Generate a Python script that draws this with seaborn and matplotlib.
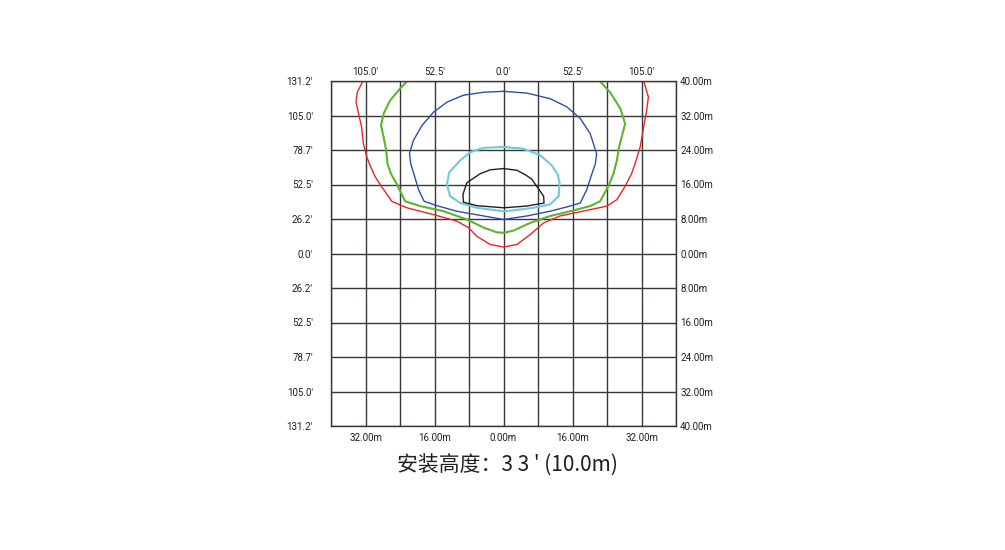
import numpy as np
import pandas as pd
import matplotlib
matplotlib.use("Agg")
import matplotlib.pyplot as plt
import seaborn as sns

# isolux curves, metres (x: lateral, y: forward)
red_x = [-32.6, -33.9, -34.2, -33.6, -32.9, -32.5, -31.7, -30.8, -29.8, -28.6, -25.9, -22.4, -16.2, -10.8,
         -8.1, -6.2, -3.1, 0.0, 3.1, 6.2, 9.3, 13.1, 19.3, 24.0, 26.3, 28.2, 29.7, 30.5, 31.7, 32.5,
         33.2, 33.6, 32.5]
red_y = [40.0, 37.4, 35.1, 32.4, 29.3, 25.5, 22.4, 20.1, 17.9, 16.0, 12.1, 10.6, 9.0, 7.5,
         6.0, 4.0, 2.1, 1.5, 2.1, 4.4, 7.1, 8.7, 10.0, 11.0, 12.5, 15.6, 18.5, 20.8, 24.7, 29.3,
         33.2, 36.3, 40.0]

green_x = [-22.3, -24.0, -26.3, -27.8, -28.4, -27.8, -27.2, -26.9, -26.1, -24.7, -22.8, -19.3, -13.9,
           -8.5, -4.6, -1.5, 0.0, 2.3, 6.2, 10.8, 15.5, 20.1, 22.4, 24.3, 25.5, 26.3, 26.7, 27.4,
           28.2, 27.1, 24.7, 22.3]
green_y = [40.0, 38.2, 35.5, 32.4, 29.7, 27.0, 23.9, 20.8, 18.5, 16.0, 12.1, 11.0, 9.8,
           7.9, 6.0, 4.9, 4.8, 5.3, 7.1, 8.7, 9.8, 11.0, 12.1, 15.6, 18.5, 21.6, 24.3, 27.0,
           30.1, 33.6, 37.4, 40.0]

blue_x = [0.0, 5.4, 10.8, 14.7, 17.8, 20.1, 21.6, 21.3, 20.5, 19.3, 17.8, 14.7, 10.8, 5.4, 0.0,
          -4.6, -10.8, -15.5, -18.4, -19.7, -20.8, -21.5, -21.8, -20.9, -18.9, -16.2, -13.1, -9.3,
          -4.6, 0.0]
blue_y = [37.6, 37.2, 35.9, 34.0, 31.3, 27.8, 23.1, 20.8, 18.5, 14.8, 11.7, 10.8, 9.8, 8.7, 7.9,
          8.7, 9.8, 11.1, 12.1, 14.8, 18.5, 20.8, 23.2, 26.2, 29.7, 32.8, 35.1, 36.7,
          37.4, 37.6]

cyan_x = [0.0, 4.6, 8.5, 11.2, 12.6, 13.0, 12.8, 10.8, 7.0, 2.3, 0.0, -6.2, -10.0, -12.4, -13.1,
          -12.6, -10.0, -7.7, -4.6, 0.0]
cyan_y = [24.7, 24.3, 22.8, 20.4, 18.3, 16.4, 13.3, 11.4, 10.6, 10.0, 9.8, 10.6, 11.7, 13.3, 16.0,
          18.8, 21.6, 23.5, 24.5, 24.7]

black_x = [0.0, 3.1, 5.0, 6.5, 7.7, 9.3, 9.4, 5.4, 0.0, -6.2, -9.3, -9.4, -8.5, -6.6, -5.4, -3.1, 0.0]
black_y = [19.7, 19.3, 18.3, 17.3, 15.6, 13.3, 11.7, 11.0, 10.6, 11.1, 11.9, 13.7, 16.4, 17.7, 18.5, 19.4, 19.7]

curves = [
    (red_x, red_y, "#e8262a", 1.0),
    (green_x, green_y, "#5db52e", 1.5),
    (blue_x, blue_y, "#2d50a0", 1.0),
    (cyan_x, cyan_y, "#6fcbd9", 1.5),
    (black_x, black_y, "#231f20", 1.0),
]

# axis ticks
grid_ticks = list(range(-40, 41, 8))
m_labels = ["40.00m", "32.00m", "24.00m", "16.00m", "8.00m", "0.00m",
            "8.00m", "16.00m", "24.00m", "32.00m", "40.00m"]
ft_labels = ["131.2′", "105.0′", "78.7′", "52.5′", "26.2′", "0.0′",
             "26.2′", "52.5′", "78.7′", "105.0′", "131.2′"]
bottom_labels = ["", "32.00m", "", "16.00m", "", "0.00m", "", "16.00m", "", "32.00m", ""]
top_labels = ["", "105.0′", "", "52.5′", "", "0.0′", "", "52.5′", "", "105.0′", ""]
title = "安装高度：3 3 ' (10.0m)"

sns.set_style("white")
plt.rcParams["font.family"] = ["Roboto", "DejaVu Sans"]
plt.rcParams["lines.solid_joinstyle"] = "round"
plt.rcParams["lines.solid_capstyle"] = "round"

fig = plt.figure(figsize=(10.05, 5.5), dpi=100)
ax = fig.add_axes([331 / 1005, 1 - 426 / 550, 345 / 1005, 345 / 550])

for xs, ys, col, lw in curves:
    sns.lineplot(x=xs, y=ys, sort=False, estimator=None, color=col, linewidth=lw, ax=ax)

ax.set_xlim(-40, 40)
ax.set_ylim(-40, 40)
ax.set_xticks(grid_ticks)
ax.set_yticks(grid_ticks)
ax.set_xticklabels(bottom_labels)
ax.set_yticklabels(ft_labels[::-1])
ax.grid(True, color="#3a3536", linewidth=1.0)
ax.set_axisbelow(True)
for s in ax.spines.values():
    s.set_color("#3a3536")
    s.set_linewidth(1.0)
ax.tick_params(axis="x", length=0, labelsize=7, colors="#231f20", pad=5)
ax.tick_params(axis="y", length=0, labelsize=7, colors="#231f20", pad=13)

axr = ax.twinx()
axr.set_ylim(-40, 40)
axr.set_yticks(grid_ticks)
axr.set_yticklabels(m_labels[::-1])
axr.tick_params(length=0, labelsize=7, colors="#231f20", pad=3)
for s in axr.spines.values():
    s.set_visible(False)

axt = ax.twiny()
axt.set_xlim(-40, 40)
axt.set_xticks(grid_ticks)
axt.set_xticklabels(top_labels)
axt.tick_params(length=0, labelsize=7, colors="#231f20", pad=3)
for s in axt.spines.values():
    s.set_visible(False)

fig.text(507 / 1005, 1 - 466 / 550, title, ha="center", va="center", fontsize=15,
         color="#231f20", family=["Noto Sans CJK SC", "DejaVu Sans"])

fig.savefig("out.png", dpi=100)
